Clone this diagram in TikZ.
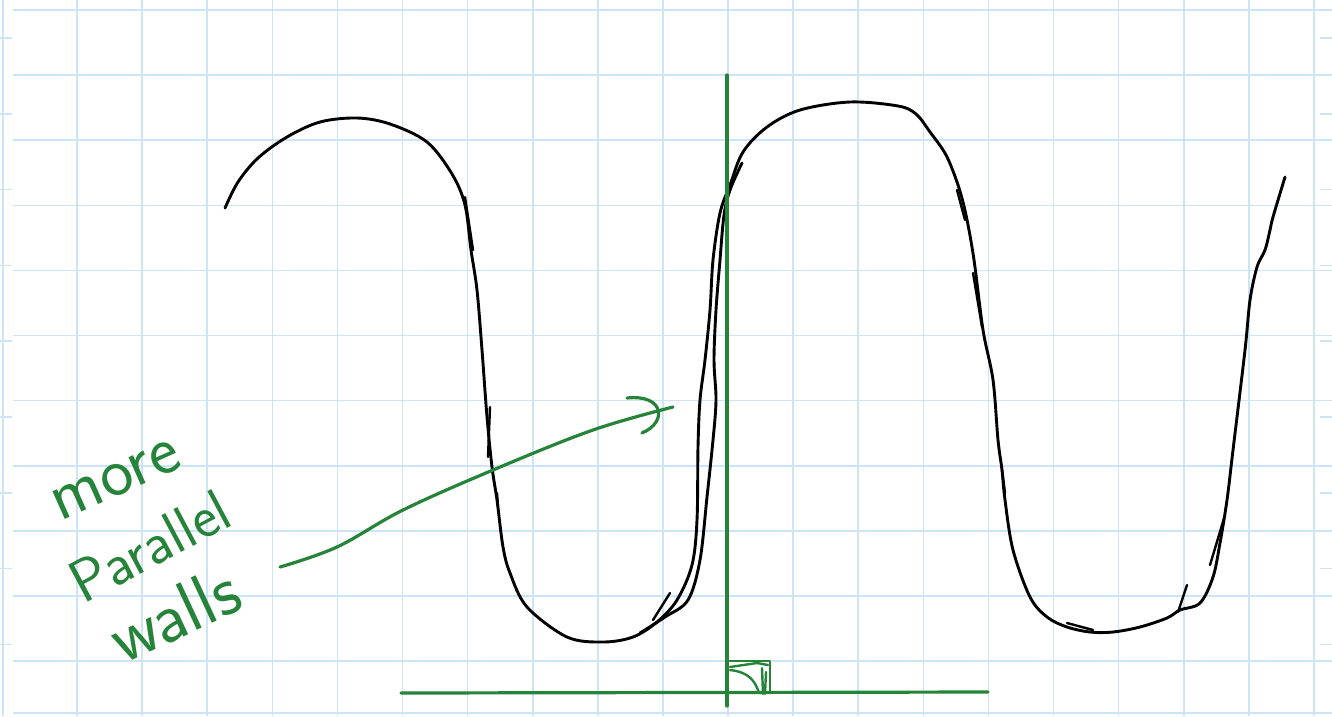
\documentclass[tikz,border=0pt]{standalone}
\definecolor{gridblue}{RGB}{205,228,246}
\definecolor{penGreen}{RGB}{38,132,58}
\tikzset{
  gridline/.style={draw=gridblue, line width=1.6pt},
  ink/.style={draw=black, line width=2.9pt, line cap=round, line join=round},
  thinink/.style={draw=black, line width=2.4pt, line cap=round},
  greenpen/.style={draw=penGreen, line width=3.2pt, line cap=round, line join=round},
  hand/.style={text=penGreen, inner sep=0pt, font=\sffamily}
}
\begin{document}
\begin{tikzpicture}[x=1pt,y=-1pt]
\fill[white] (0,0) rectangle (1332,716);
\useasboundingbox (0,0) rectangle (1332,716);
% grid
\foreach \k in {0,...,19} { \draw[gridline] ({77+65.1*\k},0) -- ({77+65.1*\k},716); }
\foreach \k in {0,...,10} { \draw[gridline] (13,{10+65.1*\k}) -- (1332,{10+65.1*\k}); }
\draw[gridline] (3,0) -- (3,716);
\draw[gridline] (13,713) -- (1332,713);
\foreach \k in {0,...,8} {
  \draw[gridline] (0,{38+75.8*\k}) -- (12,{38+75.8*\k});
  \draw[gridline] (1320,{38+75.8*\k}) -- (1332,{38+75.8*\k});
}
% main black curve (strand A)
\draw[ink] plot[smooth, tension=0.55] coordinates {
(225,208) (238,182) (258,158) (287,137) (320,122) (357,118) (390,124) (427,142) (452,174) (465,205)
(471,250) (477,290) (482,350) (487,417) (492,467) (497,500) (503,547) (510,573) (527,607)
(567,637) (603,642) (633,637) (657,622) (677,600) (692,565) (697,520) (698,447) (700,400)
(705,360) (710,310) (713,260) (720,213) (730,185) (743,152) (767,127) (800,110) (850,102)
(898,106) (916,114) (930,132) (946,155) (958,185) (966,215) (974,260) (983,330) (993,380)
(998,440) (1002,470) (1005,500) (1013,550) (1030,597) (1047,617) (1067,627) (1090,632)
(1113,632) (1140,627) (1167,618) (1180,610) (1200,603) (1213,577) (1220,543) (1227,500)
(1233,450) (1245,350) (1250,300) (1257,267) (1265,250) (1270,230) (1273,217) (1285,177)};
% second strand of the left valley wall
\draw[ink] plot[smooth, tension=0.55] coordinates {
(640,633) (665,617) (688,600) (700,560) (707,497) (713,440) (716,400) (714,360) (716,310)
(720,260) (724,215) (730,190) (742,163)};
% short overlapping strokes
\draw[thinink] (465,197) -- (473,250);
\draw[thinink] (490,407) -- (488,457);
\draw[thinink] (497,493) -- (498,507);
\draw[thinink] (653,620) -- (670,593);
\draw[thinink] (957,190) -- (965,220);
\draw[thinink] (973,273) -- (982,327);
\draw[thinink] (1002,470) -- (1005,493);
\draw[thinink] (1067,623) -- (1093,630);
\draw[thinink] (1178,612) -- (1187,585);
\draw[thinink] (1210,565) -- (1225,515);
% green perpendicular lines
\coordinate (vtop) at (727,75);
\coordinate (vbot) at (727,706);
\coordinate (hleft) at (401,693);
\coordinate (hright) at (988,692);
\draw[greenpen] (vtop) -- (vbot);
\draw[greenpen] (hleft) -- (hright);
% right-angle mark
\draw[greenpen, line width=2.6pt] (728,661) -- (770,661) -- (770,693);
\draw[greenpen, line width=2.4pt] (730,667) -- (757,663) -- (768,665);
\draw[greenpen, line width=2.4pt] (730,670) .. controls (748,672) and (755,680) .. (759,693);
\draw[greenpen, line width=2.4pt] (762,668) -- (763,694);
\draw[greenpen, line width=2.4pt] (766,672) -- (765,694);
% green arrow
\coordinate (astart) at (280,567);
\coordinate (aend) at (673,407);
\draw[greenpen] plot[smooth, tension=0.6] coordinates {(astart) (337,547) (403,510) (493,470) (593,430) (aend)};
\draw[greenpen] (627,398) .. controls (664,394) and (668,422) .. (642,433);
% handwritten label
\node[hand, rotate=24, font=\sffamily\fontsize{70}{70}\selectfont] (more) at (116,480) {more};
\node[hand, rotate=28, font=\sffamily\fontsize{60}{60}\selectfont] (parallel) at (150,546) {Parallel};
\node[hand, rotate=25, font=\sffamily\fontsize{72}{72}\selectfont] (walls) at (174,614) {walls};
\end{tikzpicture}
\end{document}
